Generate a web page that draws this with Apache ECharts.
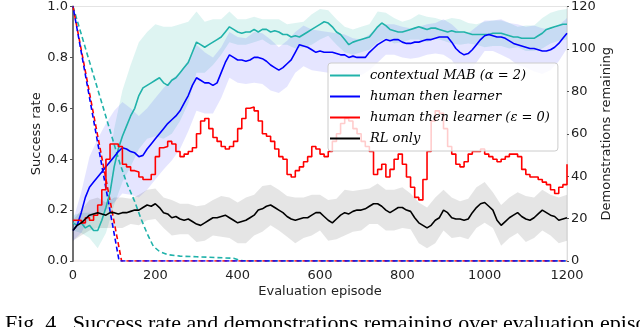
<!DOCTYPE html>
<html>
<head>
<meta charset="utf-8">
<script src="https://cdn.jsdelivr.net/npm/echarts@6/dist/echarts.min.js"></script>
<style>
html,body{margin:0;padding:0;background:#fff}
#main{width:640px;height:327px}
</style>
</head>
<body>
<div id="main"></div>
<script>
// success rate means, one value every 10 evaluation episodes (0..1200)
var STEP = 10;
var cyanMean = [
  0.15,0.14,0.15,0.13,0.14,0.12,0.12,0.16,0.21,0.27,
  0.37,0.44,0.49,0.53,0.57,0.60,0.65,0.68,0.69,0.70,
  0.71,0.72,0.70,0.69,0.71,0.72,0.74,0.76,0.78,0.82,
  0.86,0.85,0.84,0.85,0.86,0.87,0.88,0.90,0.92,0.91,
  0.90,0.895,0.90,0.90,0.91,0.90,0.91,0.91,0.90,0.905,
  0.90,0.89,0.89,0.88,0.885,0.88,0.89,0.90,0.91,0.92,
  0.93,0.94,0.935,0.92,0.90,0.89,0.87,0.85,0.86,0.865,
  0.87,0.875,0.88,0.90,0.92,0.935,0.925,0.91,0.905,0.90,
  0.90,0.905,0.91,0.915,0.92,0.915,0.91,0.915,0.915,0.91,
  0.905,0.90,0.905,0.90,0.90,0.90,0.895,0.89,0.89,0.89,
  0.89,0.89,0.895,0.895,0.895,0.89,0.885,0.88,0.88,0.875,
  0.875,0.875,0.875,0.885,0.895,0.91,0.915,0.92,0.925,0.93,
  0.93
];
var blueMean = [
  0.12,0.14,0.19,0.25,0.29,0.31,0.33,0.35,0.37,0.39,
  0.41,0.43,0.445,0.44,0.43,0.425,0.41,0.415,0.44,0.46,
  0.48,0.50,0.52,0.54,0.555,0.57,0.59,0.62,0.65,0.69,
  0.72,0.71,0.70,0.70,0.69,0.70,0.74,0.78,0.81,0.80,
  0.79,0.79,0.785,0.79,0.80,0.80,0.795,0.785,0.77,0.76,
  0.75,0.76,0.775,0.79,0.82,0.85,0.845,0.84,0.83,0.82,
  0.825,0.82,0.82,0.82,0.815,0.81,0.81,0.80,0.805,0.80,
  0.80,0.80,0.82,0.835,0.85,0.86,0.87,0.865,0.87,0.87,
  0.86,0.855,0.855,0.86,0.86,0.865,0.87,0.87,0.875,0.88,
  0.88,0.88,0.86,0.835,0.82,0.81,0.815,0.83,0.85,0.87,
  0.885,0.89,0.885,0.88,0.88,0.875,0.865,0.855,0.85,0.845,
  0.84,0.835,0.835,0.83,0.825,0.825,0.83,0.84,0.855,0.875,
  0.895
];
var redMean = [
  0.16,0.16,0.15,0.17,0.16,0.18,0.22,0.28,0.40,0.46,
  0.46,0.45,0.38,0.37,0.355,0.35,0.33,0.32,0.32,0.34,
  0.41,0.445,0.45,0.47,0.46,0.43,0.41,0.42,0.43,0.445,
  0.50,0.55,0.56,0.52,0.485,0.47,0.45,0.44,0.45,0.47,
  0.52,0.56,0.60,0.605,0.59,0.55,0.50,0.49,0.47,0.44,
  0.41,0.40,0.34,0.33,0.355,0.37,0.39,0.41,0.45,0.44,
  0.42,0.41,0.43,0.47,0.50,0.54,0.56,0.55,0.52,0.50,
  0.47,0.45,0.43,0.34,0.36,0.38,0.33,0.36,0.40,0.42,
  0.38,0.33,0.29,0.25,0.24,0.32,0.43,0.55,0.59,0.58,
  0.52,0.45,0.42,0.38,0.37,0.39,0.42,0.43,0.43,0.44,
  0.42,0.41,0.40,0.39,0.40,0.41,0.42,0.42,0.41,0.36,
  0.34,0.33,0.33,0.32,0.31,0.30,0.28,0.265,0.29,0.30,
  0.38
];
var blackMean = [
  0.12,0.14,0.15,0.165,0.18,0.185,0.19,0.185,0.18,0.19,
  0.19,0.185,0.19,0.19,0.195,0.20,0.20,0.21,0.22,0.215,
  0.225,0.21,0.19,0.185,0.17,0.175,0.165,0.16,0.165,0.155,
  0.145,0.14,0.15,0.16,0.17,0.17,0.175,0.18,0.17,0.16,
  0.15,0.155,0.16,0.17,0.18,0.20,0.205,0.215,0.22,0.21,
  0.20,0.19,0.175,0.165,0.16,0.165,0.17,0.17,0.18,0.19,
  0.19,0.175,0.16,0.15,0.165,0.18,0.19,0.185,0.195,0.20,
  0.20,0.205,0.215,0.225,0.225,0.215,0.20,0.19,0.20,0.21,
  0.21,0.20,0.195,0.17,0.15,0.14,0.13,0.14,0.16,0.17,
  0.20,0.19,0.17,0.165,0.165,0.16,0.165,0.19,0.21,0.225,
  0.23,0.215,0.20,0.16,0.14,0.155,0.17,0.18,0.19,0.175,
  0.165,0.16,0.17,0.185,0.20,0.19,0.18,0.175,0.16,0.165,
  0.17
];

// half-width of the shaded spread, one value every 20 episodes
var cyanSpread = [
  0.03,0.04,0.05,0.07,0.10,0.15,0.18,0.20,0.21,0.21,
  0.22,0.22,0.21,0.19,0.16,0.12,0.10,0.09,0.07,0.06,
  0.05,0.05,0.05,0.04,0.05,0.05,0.04,0.05,0.05,0.06,
  0.06,0.05,0.05,0.05,0.05,0.05,0.05,0.06,0.05,0.05,
  0.04,0.04,0.05,0.05,0.04,0.04,0.05,0.05,0.04,0.04,
  0.05,0.05,0.05,0.05,0.04,0.05,0.05,0.06,0.06,0.06,
  0.06
];
var blueSpread = [
  0.04,0.08,0.12,0.15,0.17,0.18,0.18,0.17,0.16,0.16,
  0.16,0.16,0.16,0.15,0.14,0.13,0.12,0.11,0.10,0.09,
  0.09,0.09,0.10,0.10,0.10,0.09,0.09,0.08,0.08,0.08,
  0.08,0.08,0.08,0.08,0.07,0.07,0.07,0.07,0.06,0.06,
  0.06,0.06,0.06,0.06,0.06,0.07,0.07,0.08,0.08,0.07,
  0.06,0.06,0.07,0.07,0.08,0.08,0.09,0.09,0.08,0.07,
  0.06
];
var blackSpread = [
  0.04,0.05,0.06,0.06,0.05,0.06,0.06,0.05,0.06,0.06,
  0.06,0.06,0.07,0.06,0.06,0.07,0.07,0.07,0.08,0.08,
  0.08,0.09,0.08,0.09,0.08,0.08,0.08,0.09,0.08,0.08,
  0.07,0.08,0.08,0.09,0.08,0.08,0.07,0.08,0.08,0.08,
  0.08,0.07,0.08,0.08,0.09,0.08,0.08,0.07,0.08,0.08,
  0.08,0.07,0.08,0.08,0.08,0.09,0.08,0.08,0.08,0.09,
  0.09
];

// demonstrations remaining (right axis): [episode, count]
var cyanDemo = [[0,120],[20,107],[40,94],[60,81],[80,68],[100,55],[114,46],[130,37],[150,28],[165,20],[180,13],[195,7],[210,4.5],[230,3],[260,2.3],[300,2],[350,1.6],[390,1.3],[405,0.3],[420,0],[1200,0]];
var blueDemo = [[0,120],[112,0],[1200,0]];
var redDemo = [[0,120],[118,0],[1200,0]];

var names = ['contextual MAB (α = 2)', 'human then learner', 'human then learner (ε = 0)', 'RL only'];
var colors = ['#20b2aa', '#0000ff', '#ff0000', '#000000'];

function pairs(arr) {
  return arr.map(function (v, i) { return [i * STEP, v]; });
}

function band(mean, spread, fill) {
  var rows = spread.map(function (s, i) {
    var m = mean[i * 2];
    return [i * 2 * STEP, Math.max(0, m - s), Math.min(1, m + s)];
  });
  return {
    type: 'custom',
    silent: true,
    z: 1,
    data: rows,
    encode: { x: 0, y: [1, 2] },
    renderItem: function (params, api) {
      if (params.dataIndex !== 0) return null;
      var up = rows.map(function (r) { return api.coord([r[0], r[2]]); });
      var lo = rows.map(function (r) { return api.coord([r[0], r[1]]); }).reverse();
      return { type: 'polygon', shape: { points: up.concat(lo) }, style: { fill: fill } };
    }
  };
}

function line(name, data, color, yIdx, dashed, extra) {
  var s = {
    name: name,
    type: 'line',
    yAxisIndex: yIdx,
    data: data,
    symbol: 'none',
    z: 3,
    lineStyle: { color: color, width: 1.6 },
    itemStyle: { color: color }
  };
  if (dashed) {
    s.lineStyle.type = [5, 3];
    s.lineStyle.dashOffset = dashed;
    s.z = 2;
  }
  if (extra) for (var k in extra) s[k] = extra[k];
  return s;
}

var chart = echarts.init(document.getElementById('main'));
var labelFont = { fontFamily: 'DejaVu Sans', fontSize: 13, color: '#222' };

chart.setOption({
  animation: false,
  grid: { left: 73, right: 73, top: 5, bottom: 66, show: true, borderColor: '#e4e4e4', borderWidth: 1 },
  legend: {
    data: names,
    orient: 'vertical',
    left: 328,
    top: 63,
    padding: [5, 8, 5, 2],
    icon: 'rect',
    itemWidth: 30,
    itemHeight: 2,
    itemGap: 6,
    backgroundColor: 'rgba(255,255,255,0.8)',
    borderColor: '#cccccc',
    borderWidth: 1,
    borderRadius: 3,
    textStyle: { fontFamily: 'DejaVu Serif', fontStyle: 'italic', fontSize: 13, color: '#000', lineHeight: 15, padding: [0, 0, 0, 5] }
  },
  xAxis: {
    type: 'value',
    min: 0, max: 1200, interval: 200,
    name: 'Evaluation episode',
    nameLocation: 'middle',
    nameGap: 24,
    nameMoveOverlap: false,
    nameTextStyle: labelFont,
    axisLine: { show: false },
    axisTick: { show: false },
    splitLine: { show: false },
    axisLabel: Object.assign({ margin: 8, formatter: function (v) { return String(v); } }, labelFont)
  },
  yAxis: [{
    type: 'value',
    min: 0, max: 1, interval: 0.2,
    name: 'Success rate',
    nameLocation: 'middle',
    nameRotate: 90,
    nameGap: 30,
    nameMoveOverlap: false,
    nameTextStyle: labelFont,
    axisLine: { show: true, lineStyle: { color: '#707070', width: 2 } },
    axisTick: { show: true, length: 3, lineStyle: { color: '#555' } },
    splitLine: { show: false },
    axisLabel: Object.assign({ margin: 5, formatter: function (v) { return v.toFixed(1); } }, labelFont)
  }, {
    type: 'value',
    position: 'right',
    min: 0, max: 120, interval: 20,
    name: 'Demonstrations remaining',
    nameLocation: 'middle',
    nameRotate: 90,
    nameGap: 33,
    nameMoveOverlap: false,
    nameTextStyle: labelFont,
    axisLine: { show: true, lineStyle: { color: '#dddddd', width: 1 } },
    axisTick: { show: true, length: 2, lineStyle: { color: '#555' } },
    splitLine: { show: false },
    axisLabel: Object.assign({ margin: 4 }, labelFont)
  }],
  graphic: [{
    type: 'text',
    left: 5,
    top: 313,
    style: { text: 'Fig. 4.  Success rate and demonstrations remaining over evaluation episodes for all conditions', font: '22px "Liberation Serif"', fill: '#000' }
  }],
  series: [
    band(cyanMean, cyanSpread, 'rgba(32,178,170,0.15)'),
    band(blueMean, blueSpread, 'rgba(0,0,255,0.10)'),
    band(blackMean, blackSpread, 'rgba(0,0,0,0.10)'),
    line('cyan demos', cyanDemo, colors[0], 1, 0.1),
    line('red demos', redDemo, colors[2], 1, 0.1),
    line('blue demos', blueDemo, colors[1], 1, 4),
    line(names[0], pairs(cyanMean), colors[0], 0),
    line(names[1], pairs(blueMean), colors[1], 0),
    line(names[2], pairs(redMean), colors[2], 0, 0, { step: 'end' }),
    line(names[3], pairs(blackMean), colors[3], 0)
  ]
});
</script>
</body>
</html>
